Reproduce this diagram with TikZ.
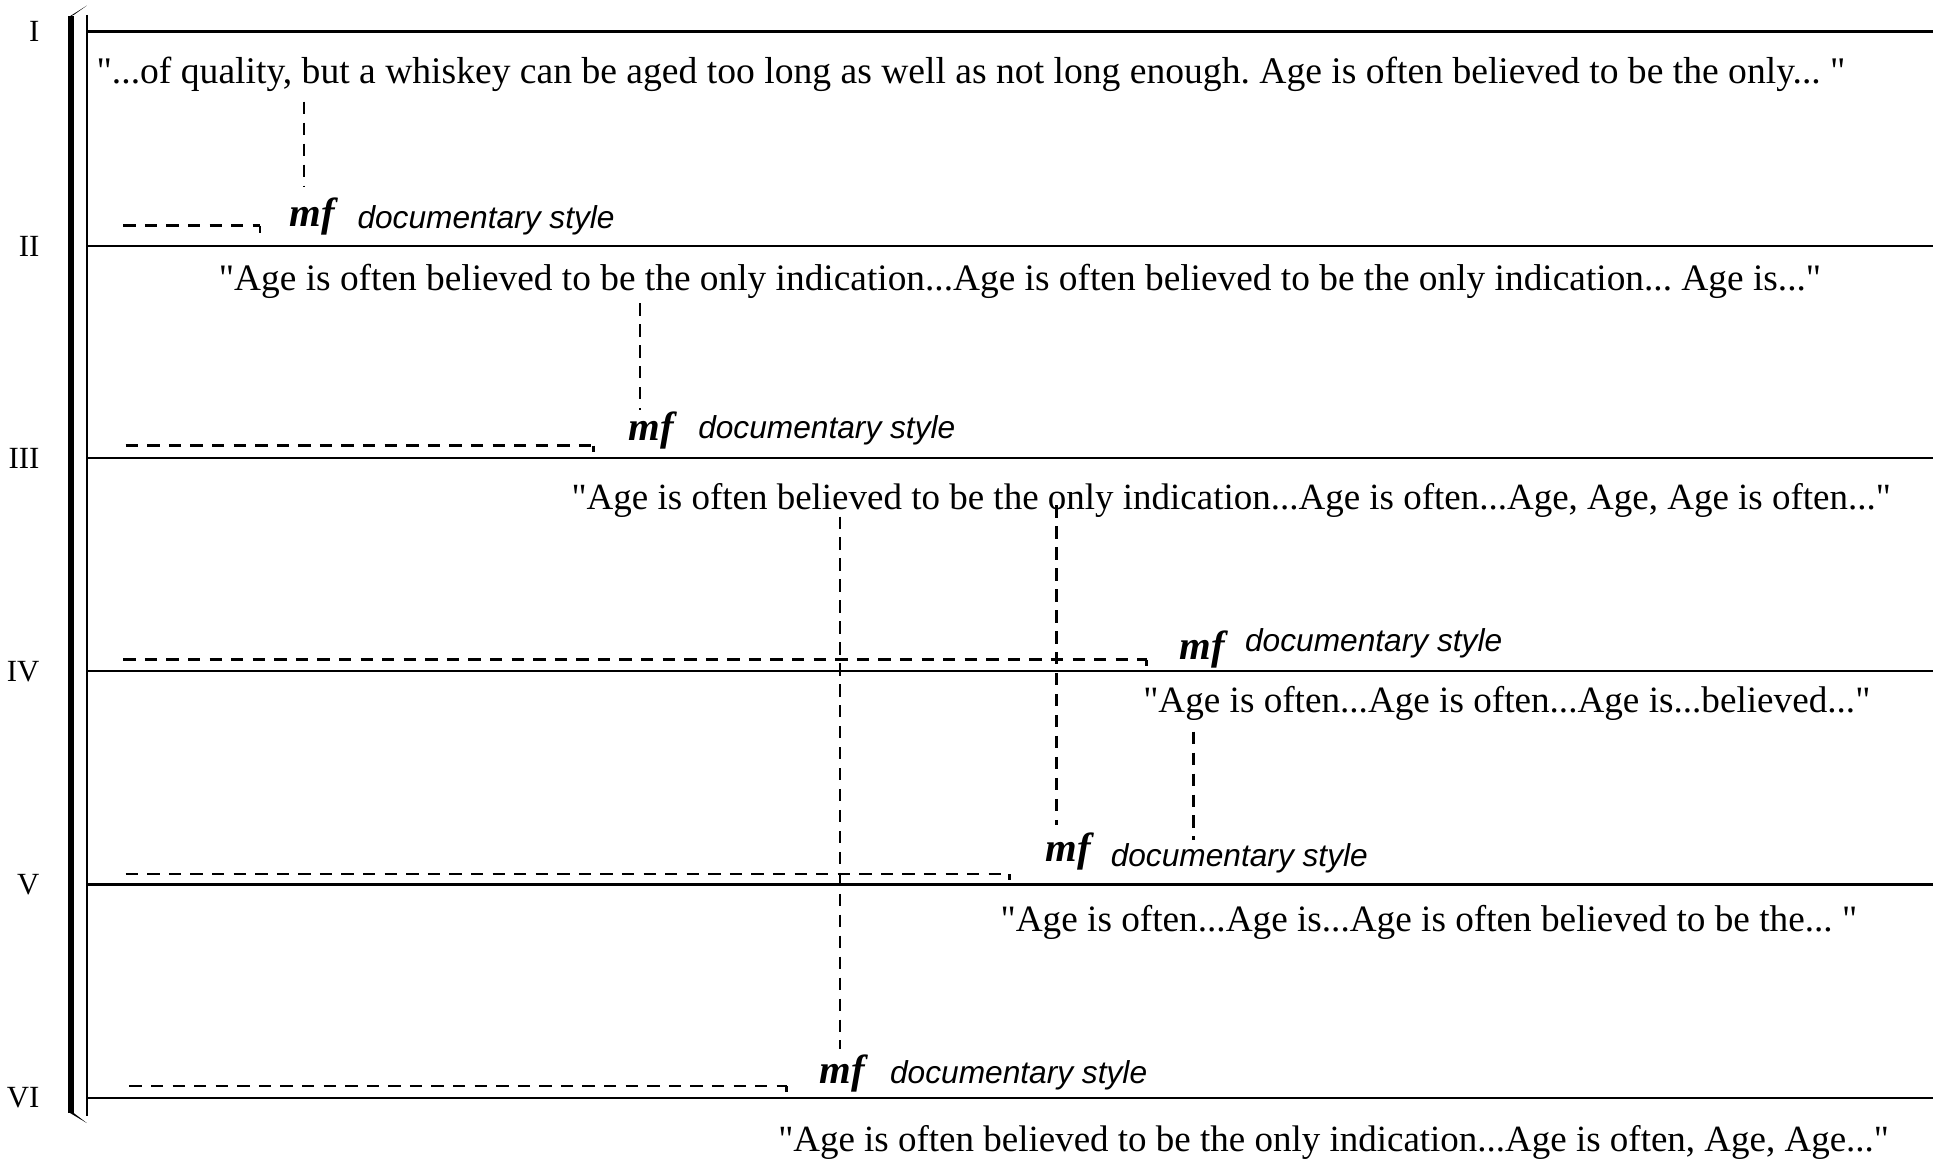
\documentclass[tikz,border=0pt]{standalone}
\usepackage{fontspec}
\setmainfont{Liberation Serif}
\newfontfamily\lsans{Liberation Sans}
\newcommand{\dqm}{\textquotedbl}
\begin{document}
\frenchspacing
\begin{tikzpicture}[x=1pt,y=-1pt,
  lyric/.style={anchor=base west,inner sep=0pt,outer sep=0pt,font=\fontsize{30}{36}\selectfont},
  dyn/.style={anchor=base west,inner sep=0pt,outer sep=0pt,font=\fontsize{33}{38}\selectfont\bfseries\itshape},
  styletext/.style={anchor=base west,inner sep=0pt,outer sep=0pt,font=\lsans\itshape\fontsize{25.7}{30}\selectfont},
  numeral/.style={anchor=east,inner sep=0pt,outer sep=0pt,font=\fontsize{25}{30}\selectfont},
  staffline/.style={line width=2pt},
  ext/.style={line width=1.9pt,dash pattern=on 10pt off 7.5pt},
  vext/.style={line width=1.9pt,dash pattern=on 10pt off 7pt},
  tickline/.style={line width=1.9pt},
]
\useasboundingbox (0,0) rectangle (1568,947);

% bracket
\coordinate (bt) at (57.7,13);
\coordinate (bb) at (57.7,903);
\draw[line width=4.6pt] (bt) -- (bb);
\fill (55.4,14) -- (70.5,4.5) -- (60,12) -- cycle;
\fill (55.4,902) -- (70.5,911) -- (60,903) -- cycle;
\coordinate (tt) at (70.8,12);
\coordinate (tb) at (70.8,905);
\draw[line width=1.8pt] (tt) -- (tb);

% staff lines and numerals
\foreach \n/\y/\lab in {1/25.5/I,2/199.5/II,3/371.5/III,4/544.5/IV,5/717.5/V,6/890.5/VI}{
  \coordinate (sl\n) at (70.8,\y);
  \coordinate (sr\n) at (1568,\y);
  \draw[staffline] (sl\n) -- (sr\n);
  \node[numeral] (num\n) at (32,\y) {\lab};
}

% lyrics
\node[lyric,font=\fontsize{30.5}{36}\selectfont] (t1) at (78.4,68) {\dqm...of quality, but a whiskey can be aged too long as well as not long enough. Age is often believed to be the only... \dqm};
\node[lyric,font=\fontsize{30.3}{36}\selectfont] (t2) at (177.6,236) {\dqm Age is often believed to be the only indication...Age is often believed to be the only indication... Age is...\dqm};
\node[lyric] (t3) at (463.7,413) {\dqm Age is often believed to be the only indication...Age is often...Age, Age, Age is often...\dqm};
\node[lyric,font=\fontsize{30.15}{36}\selectfont] (t4) at (927.4,578) {\dqm Age is often...Age is often...Age is...believed...\dqm};
\node[lyric,font=\fontsize{30.2}{36}\selectfont] (t5) at (811.7,756) {\dqm Age is often...Age is...Age is often believed to be the... \dqm};
\node[lyric] (t6) at (631.3,934) {\dqm Age is often believed to be the only indication...Age is often, Age, Age...\dqm};

% dynamics and style texts
\node[dyn] (m1) at (235,184) {mf};
\node[styletext] (d1) at (290,185) {documentary style};
\node[dyn] (m2) at (509.7,357) {mf};
\node[styletext] (d2) at (566.4,355.5) {documentary style};
\node[dyn] (m3) at (957,535) {mf};
\node[styletext] (d3) at (1010,528.6) {documentary style};
\node[dyn] (m4) at (848,699) {mf};
\node[styletext] (d4) at (901,703) {documentary style};
\node[dyn] (m5) at (665,879) {mf};
\node[styletext] (d5) at (722,879) {documentary style};

% horizontal dashed extenders with end ticks
\foreach \n/\xa/\xb/\y/\yt in {1/100/211/183/189,2/102/481.3/361.5/366.4,3/100/930/535/540.5,4/102/819/709/714,5/105/638/881/886}{
  \coordinate (ha\n) at (\xa,\y);
  \coordinate (hb\n) at (\xb,\y);
  \coordinate (hc\n) at (\xb,\yt);
  \draw[ext] (ha\n) -- (hb\n);
  \draw[tickline] (hb\n) -- (hc\n);
}

% vertical dashed lines
\foreach \n/\x/\ya/\yb in {1/246.6/82.5/151.4,2/519/246/332.6,3/681.4/419/851,4/857/410/669,5/968/593.5/681.4}{
  \coordinate (va\n) at (\x,\ya);
  \coordinate (vb\n) at (\x,\yb);
  \draw[vext] (va\n) -- (vb\n);
}
\end{tikzpicture}
\end{document}
